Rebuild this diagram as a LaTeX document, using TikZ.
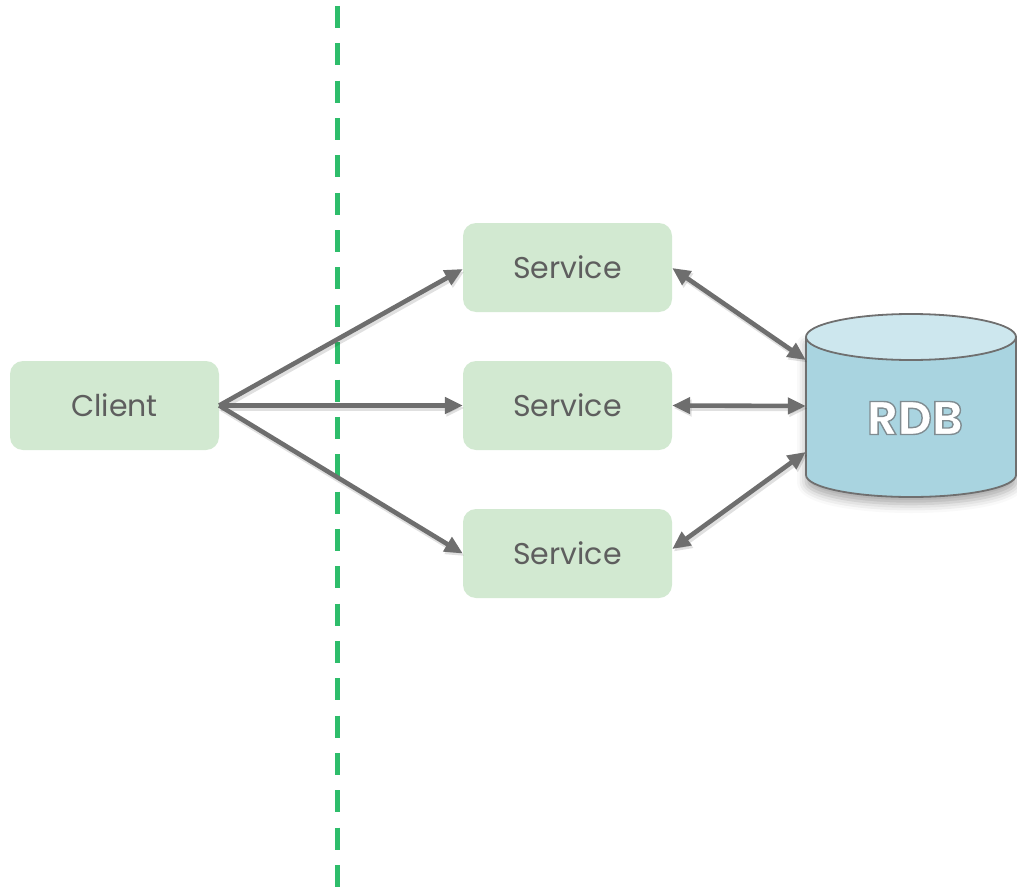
\documentclass[tikz,border=0pt]{standalone}
\usepackage{fontspec}
\setmainfont{Poppins}
\usetikzlibrary{arrows.meta,shadows.blur}

\definecolor{boxgreen}{HTML}{D2E9D1}
\definecolor{textgray}{HTML}{5E5E5E}
\definecolor{arrowgray}{HTML}{6E6E6E}
\definecolor{linegreen}{HTML}{2EBD6B}
\definecolor{dbbody}{HTML}{A9D4E0}
\definecolor{dbtop}{HTML}{CDE7EE}
\definecolor{dbedge}{HTML}{6F6F6F}

% white lettering with a thin grey outline
\newcommand{\outlined}[1]{%
  \special{pdf:literal direct 0.5 0.55 0.57 RG 1.4 w 2 Tr}#1\special{pdf:literal direct 0 Tr}}

\begin{document}
\begin{tikzpicture}[x=1pt,y=-1pt,
  procbox/.style={fill=boxgreen, rounded corners=13pt, minimum width=209pt,
    minimum height=89pt, inner sep=0pt, text=textgray,
    font=\fontsize{30}{36}\selectfont},
  dbbox/.style={minimum width=210pt, minimum height=138pt, inner sep=0pt},
  link/.style={draw=arrowgray, line width=4.6pt,
    -{Triangle[length=18pt,width=16pt]},
    preaction={draw=black, opacity=0.12, line width=5.5pt,
      transform canvas={shift={(1.5pt,-2.5pt)}}}},
  duplex/.style={link, {Triangle[length=18pt,width=16pt]}-{Triangle[length=18pt,width=16pt]}},
  divider/.style={draw=linegreen, line width=5pt,
    dash pattern=on 22pt off 15.35pt},
  dblabel/.style={font=\fontsize{47}{52}\selectfont\bfseries, text=white}
]
\useasboundingbox (0,0) rectangle (1017,888);

% boundary line
\draw[divider] (337,6) -- (337,888);

% client and services
\node[procbox] (client) at (114.5,405.5) {Client};
\node[procbox] (svc1) at (567.5,267.5) {Service};
\node[procbox] (svc2) at (567.5,405.5) {Service};
\node[procbox] (svc3) at (567.5,553.5) {Service};

% database cylinder
\node[dbbox] (rdb) at (911,406) {};
\fill[dbbody, blur shadow={shadow xshift=0pt, shadow yshift=-7pt,
    shadow blur radius=9pt, shadow opacity=35}]
  (806,337) -- (806,475) arc[start angle=180, end angle=0,
    x radius=105, y radius=22] -- (1016,337) -- cycle;
\draw[dbedge, line width=1.8pt]
  (806,337) -- (806,475) arc[start angle=180, end angle=0,
    x radius=105, y radius=22] -- (1016,337);
\draw[dbedge, line width=1.8pt, fill=dbtop] (911,337) ellipse[x radius=105, y radius=23];
\node[dblabel] (rdblabel) at ([shift={(4pt,-12pt)}]rdb.center) {\outlined{RDB}};

% requests from the client
\draw[link] (client.east) -- ([yshift=-1.5pt]svc1.west);
\draw[link] (client.east) -- (svc2.west);
\draw[link] (client.east) -- (svc3.west);

% service <-> database traffic
\draw[duplex] ([yshift=-0.5pt]svc1.east) -- ([yshift=46pt]rdb.west);
\draw[duplex] (svc2.east) -- (rdb.west);
\draw[duplex] ([yshift=4.5pt]svc3.east) -- ([yshift=-46pt]rdb.west);
\end{tikzpicture}
\end{document}
